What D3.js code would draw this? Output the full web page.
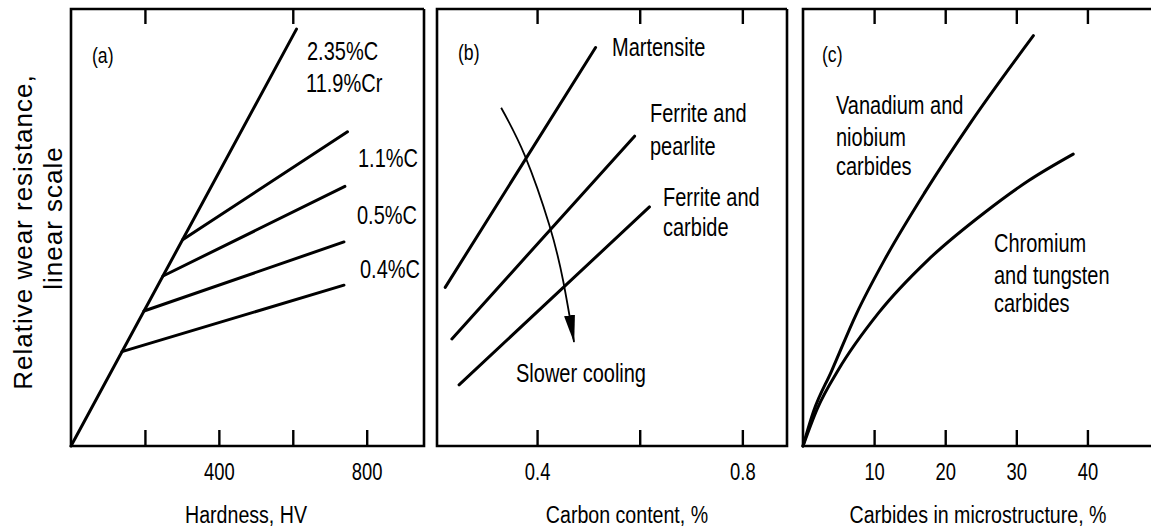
<!DOCTYPE html>
<html>
<head>
<meta charset="utf-8">
<script src="https://cdn.jsdelivr.net/npm/d3@7"></script>
<style>
  body { margin: 0; background: #fff; }
  svg { display: block; }
  text { fill: #000; }
</style>
</head>
<body>
<div class="visHolder"></div>
<script>
// ---- data (wear resistance in arbitrary units 0-100) ----

// (a) hardness, HV
var hardnessTicks = [200, 400, 600, 800];
var hardnessLabels = [400, 800];
var steelMain = [[0, 0], [610, 95.4]];
var steelBranches = [
    [[302, 47.2], [748, 71.9]],
    [[249, 38.9], [741, 59.4]],
    [[197.5, 30.9], [738.5, 46.7]],
    [[138, 21.6], [738.5, 36.8]]
];
var steelNames = ["2.35%C", "11.9%Cr", "1.1%C", "0.5%C", "0.4%C"];

// (b) carbon content, %
var carbonTicks = [0.4, 0.6, 0.8];
var carbonLabels = [0.4, 0.8];
var martensite = [[0.221, 36.3], [0.514, 91.2]];
var ferritePearlite = [[0.234, 24.5], [0.590, 70.9]];
var ferriteCarbide = [[0.248, 14.0], [0.619, 54.7]];
var coolingArrow = [[0.330, 77.4], [0.376, 66.5], [0.424, 50.5], [0.451, 37.7], [0.472, 23.8]];
var structureNames = ["Martensite", "Ferrite and", "pearlite", "Ferrite and", "carbide", "Slower cooling"];

// (c) carbides in microstructure, %
var carbideTicks = [10, 20, 30, 40];
var vanadium = [[0, 0], [1.5, 8], [4, 17.1], [7.5, 30.2], [11.5, 42.7], [17.2, 58.2], [23.7, 74.3], [32.4, 93.9]];
var chromium = [[0, 0], [2, 8.5], [5, 17.5], [10.6, 30.4], [17.6, 42.6], [25.6, 53.5], [31.7, 60.7], [38, 66.8]];
var carbideNames = ["Vanadium and", "niobium", "carbides", "Chromium", "and tungsten", "carbides"];

var width = 1151, height = 531;
var font = "'Liberation Sans', Arial, sans-serif";
var squeeze = 0.8; // condensed look

var svg = d3.select(".visHolder")
    .append("svg")
    .attr("width", width)
    .attr("height", height)
    .style("background", "#fff");

// shared vertical scale
var y = d3.scaleLinear().domain([0, 100]).range([446, 9]);

var xA = d3.scaleLinear().domain([0, 955]).range([71, 424]);
var xB = d3.scaleLinear().domain([0.205, 0.887]).range([437, 787]);
var xC = d3.scaleLinear().domain([0, 48.8]).range([803, 1150]);

// frames
function frame(x0, x1, openRight) {
    var p = "M" + x1 + "," + y(100) + "H" + x0 + "V" + y(0) + "H" + x1;
    if (!openRight) p += "V" + y(100);
    svg.append("path")
        .attr("d", p)
        .attr("fill", "none")
        .attr("stroke", "#000")
        .attr("stroke-width", 2.6);
}
frame(71, 424, false);
frame(437, 787, false);
frame(803, 1152, true);

// axes with inward ticks
function bottomAxis(scale, ticks, labels) {
    var g = svg.append("g")
        .attr("transform", "translate(0," + y(0) + ")")
        .call(d3.axisBottom(scale)
            .tickValues(ticks)
            .tickSizeInner(-16)
            .tickSizeOuter(0)
            .tickPadding(18)
            .tickFormat(function(d) { return labels.indexOf(d) >= 0 ? String(d) : ""; }));
    g.select(".domain").remove();
    g.selectAll("line").attr("stroke-width", 2.4);
    g.selectAll("text")
        .attr("transform", "scale(" + squeeze + ",1)")
        .style("font-family", font)
        .style("font-size", "23px");
}
function topAxis(scale, ticks) {
    var g = svg.append("g")
        .attr("transform", "translate(0," + y(100) + ")")
        .call(d3.axisTop(scale)
            .tickValues(ticks)
            .tickSizeInner(-15)
            .tickSizeOuter(0)
            .tickFormat(""));
    g.select(".domain").remove();
    g.selectAll("line").attr("stroke-width", 2.4);
}

bottomAxis(xA, hardnessTicks, hardnessLabels);
topAxis(xA, [200, 600]);
bottomAxis(xB, carbonTicks, carbonLabels);
topAxis(xB, carbonTicks);
bottomAxis(xC, carbideTicks, carbideTicks);
topAxis(xC, carbideTicks);

// lines
function drawLine(data, xs, curve) {
    var line = d3.line()
        .x(function(d) { return xs(d[0]); })
        .y(function(d) { return y(d[1]); })
        .curve(curve || d3.curveLinear);
    return svg.append("path")
        .datum(data)
        .attr("d", line)
        .attr("fill", "none")
        .attr("stroke", "#000")
        .attr("stroke-width", 3)
        .attr("stroke-linecap", "round");
}

drawLine(steelMain, xA);
steelBranches.forEach(function(b) { drawLine(b, xA); });

drawLine(martensite, xB);
drawLine(ferritePearlite, xB);
drawLine(ferriteCarbide, xB);

svg.append("defs").append("marker")
    .attr("id", "head")
    .attr("markerUnits", "userSpaceOnUse")
    .attr("viewBox", "0 -6 28 12")
    .attr("markerWidth", 28)
    .attr("markerHeight", 12)
    .attr("refX", 27)
    .attr("refY", 0)
    .attr("orient", "auto")
    .append("path")
    .attr("d", "M0,-5.5L28,0L0,5.5Z")
    .attr("fill", "#000");

drawLine(coolingArrow, xB, d3.curveNatural)
    .attr("stroke-width", 1.8)
    .attr("stroke-linecap", "butt")
    .attr("marker-end", "url(#head)");

drawLine(vanadium, xC, d3.curveMonotoneX);
drawLine(chromium, xC, d3.curveMonotoneX);

// text labels (horizontally squeezed to look condensed)
function label(txt, x, yy, size, anchor) {
    svg.append("text")
        .attr("transform", "translate(" + x + "," + yy + ") scale(" + squeeze + ",1)")
        .attr("dominant-baseline", "central")
        .attr("text-anchor", anchor || "start")
        .style("font-family", font)
        .style("font-size", (size || 25) + "px")
        .text(txt);
}

label("(a)", 92, 55, 22);
label(steelNames[0], 307, 52);
label(steelNames[1], 306, 84);
label(steelNames[2], 358, 159);
label(steelNames[3], 357, 216);
label(steelNames[4], 360, 270);

label("(b)", 458, 52, 22);
label(structureNames[0], 612, 48);
label(structureNames[1], 650, 114);
label(structureNames[2], 650, 147);
label(structureNames[3], 663, 198);
label(structureNames[4], 663, 228);
label(structureNames[5], 516, 374);

label("(c)", 822, 54, 22);
label(carbideNames[0], 836, 106);
label(carbideNames[1], 836, 138);
label(carbideNames[2], 836, 167);
label(carbideNames[3], 994, 244);
label(carbideNames[4], 994, 276);
label(carbideNames[5], 994, 304);

// axis titles
label("Hardness, HV", 246, 515, 24.5, "middle");
label("Carbon content, %", 627, 515, 24.5, "middle");
label("Carbides in microstructure, %", 978, 515, 24.5, "middle");

// y title
function yTitle(txt, cy, base) {
    svg.append("text")
        .attr("transform", "translate(" + base + "," + cy + ") rotate(-90)")
        .attr("text-anchor", "middle")
        .style("font-family", font)
        .style("font-size", "26px")
        .style("letter-spacing", "1px")
        .text(txt);
}
yTitle("Relative wear resistance,", 232, 32);
yTitle("linear scale", 218, 62);
</script>
</body>
</html>
